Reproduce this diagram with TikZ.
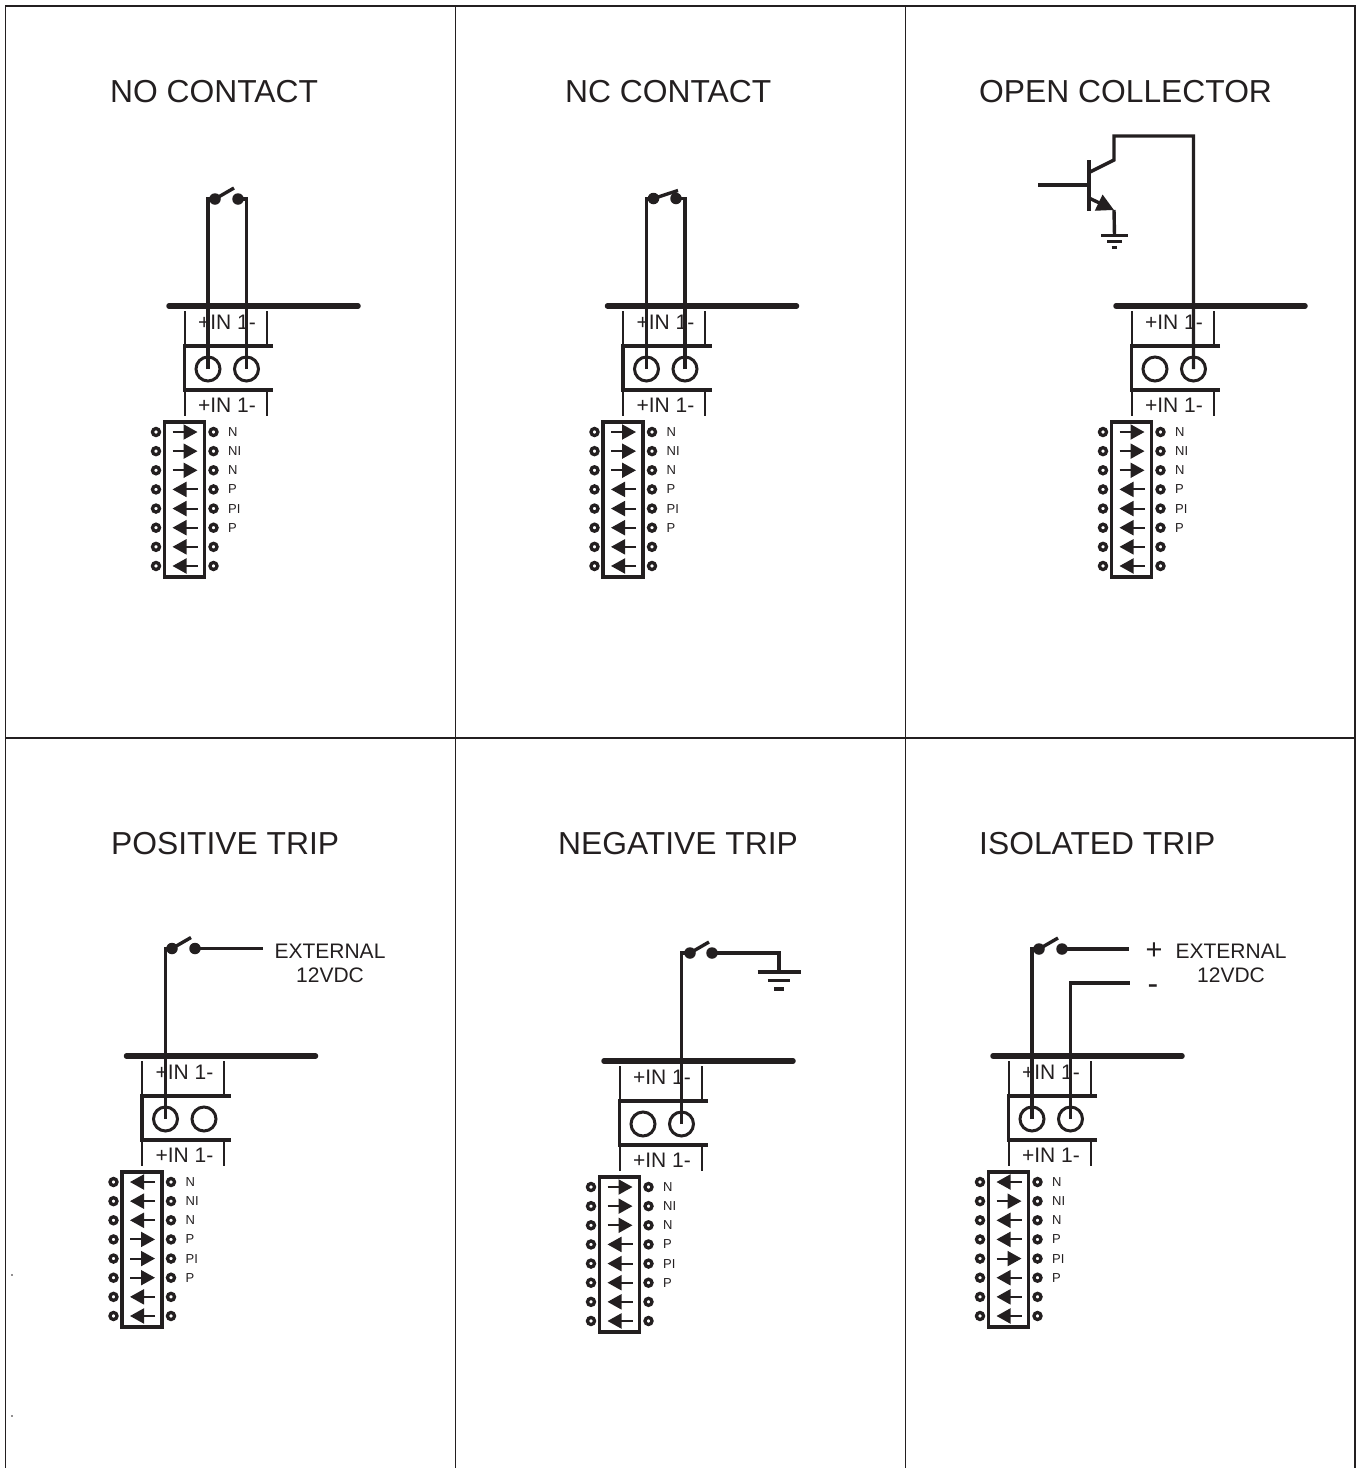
\documentclass[tikz,border=0pt]{standalone}
\usepackage{fontspec}
\setmainfont{Liberation Sans}
\usetikzlibrary{arrows.meta}
\definecolor{inkc}{HTML}{231F20}

% One terminal strip, its socket and the pin block
% #1,#2 shift, #3 prefix, #4 arrow directions (1 right, -1 left)
\newcommand{\termunit}[4]{
  \begin{scope}[shift={(#1,#2)}]
    \draw[busline] (169,306) -- (358,306);
    \draw[tickline] (184.5,311) -- (184.5,346);
    \draw[tickline] (266.5,311) -- (266.5,346);
    \draw[tickline] (184.5,390) -- (184.5,416);
    \draw[tickline] (266.5,390) -- (266.5,416);
    \draw[boxline] (273,346) -- (184.5,346) -- (184.5,390) -- (273,390);
    \node[termtext] (#3upper) at (227,322) {+IN 1-};
    \node[termtext] (#3lower) at (227,405) {+IN 1-};
    \node[socket] (#3a) at (208,369) {};
    \node[socket] (#3b) at (246.5,369) {};
    \node[draw, line width=3.5pt, minimum width=40pt, minimum height=155pt,
      inner sep=0pt] (#3blk) at (184.5,499.5) {};
    \foreach \d [count=\i] in {#4} {
      \pgfmathsetmacro{\rowy}{432+(\i-1)*19.14}
      \node[pindot] (#3l\i) at (156,\rowy) {};
      \node[pindot] (#3r\i) at (213.5,\rowy) {};
      \coordinate (#3s\i) at ({185-12.5*\d},\rowy);
      \coordinate (#3t\i) at ({185+12.5*\d},\rowy);
      \draw[pinarrow] (#3s\i) -- (#3t\i);
    }
    \foreach \lab [count=\i] in {N,NI,N,P,PI,P} {
      \pgfmathsetmacro{\rowy}{432+(\i-1)*19.14}
      \node[pintext] (#3n\i) at (228,\rowy) {\lab};
    }
  \end{scope}
}

% Switch contacts: #1 prefix, #2,#3 first dot, #4,#5 second dot, #6,#7 blade end
\newcommand{\switchpair}[7]{
  \node[contact] (#1p) at (#2,#3) {};
  \node[contact] (#1q) at (#4,#5) {};
  \coordinate (#1e) at (#6,#7);
  \draw[wire] (#1p.center) -- (#1e);
}

% Earth symbol: #1 prefix, #2,#3 top middle, #4 half width, #5 row gap
\newcommand{\earthsym}[5]{
  \coordinate (#1top) at (#2,#3);
  \draw[wire] ({#2-#4},#3) -- ({#2+#4},#3);
  \draw[wire] ({#2-0.52*#4},{#3+#5}) -- ({#2+0.52*#4},{#3+#5});
  \draw[wire] ({#2-0.22*#4},{#3+2*#5}) -- ({#2+0.22*#4},{#3+2*#5});
}

\begin{document}
\begin{tikzpicture}[
    x=1pt, y=-1pt, color=inkc,
    busline/.style={line width=5.5pt, line cap=round},
    tickline/.style={line width=2pt},
    boxline/.style={line width=3.2pt},
    wire/.style={line width=3.4pt},
    socket/.style={circle, draw, line width=3pt, minimum size=24pt, inner sep=0pt},
    contact/.style={circle, fill, minimum size=11.5pt, inner sep=0pt},
    pindot/.style={circle, draw, fill=white, line width=3.3pt, minimum size=7pt, inner sep=0pt},
    pinarrow/.style={line width=2pt, -{Triangle[length=14pt,width=15pt]}},
    termtext/.style={font=\fontsize{21}{21}\selectfont, inner sep=0pt},
    pintext/.style={font=\fontsize{13}{13}\selectfont, anchor=west, inner sep=0pt},
    titletext/.style={font=\fontsize{31.8}{31.8}\selectfont, anchor=base west, inner sep=0pt},
    sidetext/.style={font=\fontsize{21}{24}\selectfont, align=center, inner sep=0pt}
]
    \useasboundingbox (0,0) rectangle (1356,1468);

    % Frame
    \draw[line width=1.1pt] (5.5,1468) |- (1355,6) -- (1355,1468);
    \draw[line width=1.1pt] (455.5,6) -- (455.5,1468);
    \draw[line width=1.1pt] (905.5,6) -- (905.5,1468);
    \draw[line width=1.1pt] (5.5,738) -- (1355,738);
    \fill (12,1275) circle (0.8pt);
    \fill (12,1416) circle (0.8pt);

    % Titles
    \node[titletext] (title1) at (110,102) {NO CONTACT};
    \node[titletext] (title2) at (565,102) {NC CONTACT};
    \node[titletext] (title3) at (979,102) {OPEN COLLECTOR};
    \node[titletext] (title4) at (111,854) {POSITIVE TRIP};
    \node[titletext] (title5) at (558,854) {NEGATIVE TRIP};
    \node[titletext] (title6) at (979,854) {ISOLATED TRIP};

    % Terminal strips
    \termunit{0}{0}{u}{1,1,1,-1,-1,-1,-1,-1}
    \termunit{438.5}{0}{v}{1,1,1,-1,-1,-1,-1,-1}
    \termunit{947}{0}{w}{1,1,1,-1,-1,-1,-1,-1}
    \termunit{-42.5}{750}{x}{-1,-1,-1,1,1,1,-1,-1}
    \termunit{435}{755}{y}{1,1,1,-1,-1,-1,-1,-1}
    \termunit{824}{750}{z}{-1,1,-1,-1,1,-1,-1,-1}

    % NO contact
    \switchpair{us}{215}{199}{238}{199}{234}{188}
    \draw[wire] (ua.center) |- (usp.center);
    \draw[wire] (ub.center) |- (usq.center);

    % NC contact
    \switchpair{vs}{653.5}{198.5}{676}{198.5}{678}{190.5}
    \draw[wire] (va.center) |- (vsp.center);
    \draw[wire] (vb.center) |- (vsq.center);

    % Open collector
    \coordinate (qb) at (1038,185);
    \coordinate (qt) at (1089,160);
    \coordinate (qd) at (1089,211);
    \coordinate (qc) at (1114,160);
    \coordinate (qe) at (1114,210);
    \draw[wire] (qb) -- (1089,185);
    \draw[line width=4pt] (qt) -- (qd);
    \draw[wire] (1089,172.5) -- (qc) -- (1114,136) -| (wb.center);
    \draw[wire, -{Triangle[length=17pt,width=17pt]}] (1089,198) -- (qe);
    \earthsym{qg}{1114.5}{235.5}{13.5}{6}
    \draw[wire] (qe) -- (qgtop);

    % Positive trip
    \switchpair{xs}{172}{948.5}{195}{948.5}{191}{937.5}
    \coordinate (xext) at (263,948.5);
    \draw[wire] (xa.center) |- (xsp.center);
    \draw[wire] (xsq.center) -- (xext);
    \node[sidetext] (xvolt) at (330,963) {EXTERNAL\\12VDC};

    % Negative trip
    \switchpair{ys}{690}{953}{712}{953}{709}{942}
    \draw[wire] (yb.center) |- (ysp.center);
    \earthsym{yg}{779}{972}{21.5}{8.5}
    \draw[wire] (ysq.center) -| (ygtop);

    % Isolated trip
    \switchpair{zs}{1039}{949}{1062}{949}{1058}{938}
    \coordinate (zplus) at (1129,949);
    \coordinate (zminus) at (1130,983);
    \draw[wire] (za.center) |- (zsp.center);
    \draw[wire] (zsq.center) -- (zplus);
    \draw[wire] (zb.center) |- (zminus);
    \node[font=\fontsize{29}{29}\selectfont, inner sep=0pt] (zpos) at (1154,951) {+};
    \node[font=\fontsize{32}{32}\selectfont, inner sep=0pt] (zneg) at (1153,990) {-};
    \node[sidetext] (zvolt) at (1231,963) {EXTERNAL\\12VDC};

\end{tikzpicture}
\end{document}
